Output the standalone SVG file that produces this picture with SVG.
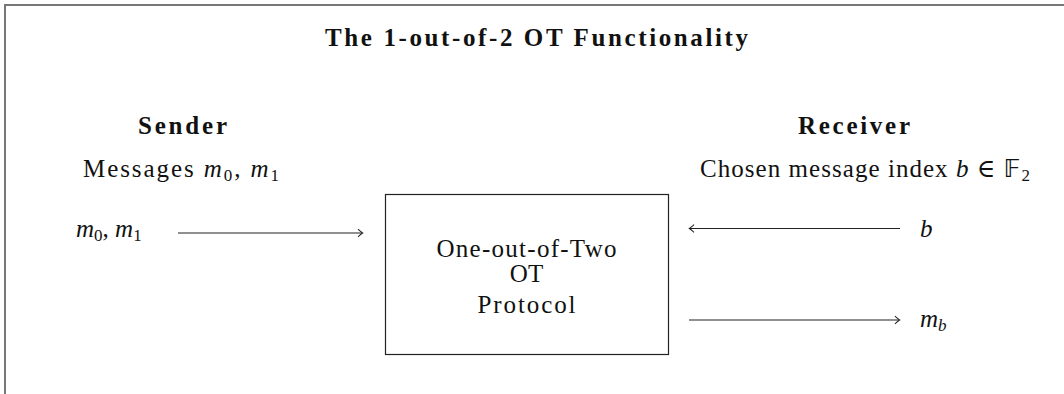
<svg xmlns="http://www.w3.org/2000/svg" width="1064" height="394" viewBox="0 0 1064 394">
<style>
text{font-family:"Liberation Serif","DejaVu Serif",serif;font-size:25px;fill:#111}
.b{font-weight:bold}
.i{font-style:italic}
.s{font-size:17px}
.c{text-anchor:middle}
.ln{stroke:#222;stroke-width:1.2;fill:none}
</style>
<defs>
<marker id="to" viewBox="-5 -5 7 10" markerWidth="7" markerHeight="10" refX="0" refY="0" orient="auto" markerUnits="userSpaceOnUse">
<path d="M-4,-3.8 Q-0.5,-0.6 0.6,0 Q-0.5,0.6 -4,3.8" fill="none" stroke="#222" stroke-width="1.1"/>
</marker>
</defs>
<rect x="5" y="5" width="1120" height="440" fill="none" stroke="#777" stroke-width="2"/>
<text class="b c" x="536.5" y="46" textLength="423" lengthAdjust="spacing">The 1-out-of-2 OT Functionality</text>
<g id="sender">
<text class="b c" x="182.5" y="134" textLength="89" lengthAdjust="spacing">Sender</text>
<text class="c" x="181" y="177" textLength="196" lengthAdjust="spacing">Messages <tspan class="i">m</tspan><tspan class="s" dy="4">0</tspan><tspan dy="-4">, </tspan><tspan class="i">m</tspan><tspan class="s" dy="4">1</tspan></text>
<text x="76" y="237"><tspan class="i">m</tspan><tspan class="s" dy="4">0</tspan><tspan dy="-4">, </tspan><tspan class="i">m</tspan><tspan class="s" dy="4">1</tspan></text>
</g>
<g id="receiver">
<text class="b c" x="854" y="134" textLength="112" lengthAdjust="spacing">Receiver</text>
<text class="c" x="865" y="177" textLength="330" lengthAdjust="spacing">Chosen message index <tspan class="i">b</tspan> ∈ <tspan font-family="DejaVu Sans">𝔽</tspan><tspan class="s" dy="4">2</tspan></text>
<text class="i" x="920" y="237">b</text>
<text x="920" y="327"><tspan class="i">m</tspan><tspan class="s i" dy="4">b</tspan></text>
</g>
<g id="protocol">
<rect x="385.5" y="194.5" width="283" height="160" fill="#fff" stroke="#222" stroke-width="1.2"/>
<text class="c" x="526.5" y="257" textLength="180" lengthAdjust="spacing">One-out-of-Two</text>
<text class="c" x="526.5" y="282">OT</text>
<text class="c" x="526.5" y="313" textLength="98" lengthAdjust="spacing">Protocol</text>
</g>
<g id="connectors">
<line class="ln" x1="178" y1="233" x2="362" y2="233" marker-end="url(#to)"/>
<line class="ln" x1="900" y1="228.5" x2="690" y2="228.5" marker-end="url(#to)"/>
<line class="ln" x1="689" y1="320" x2="899" y2="320" marker-end="url(#to)"/>
</g>
</svg>
